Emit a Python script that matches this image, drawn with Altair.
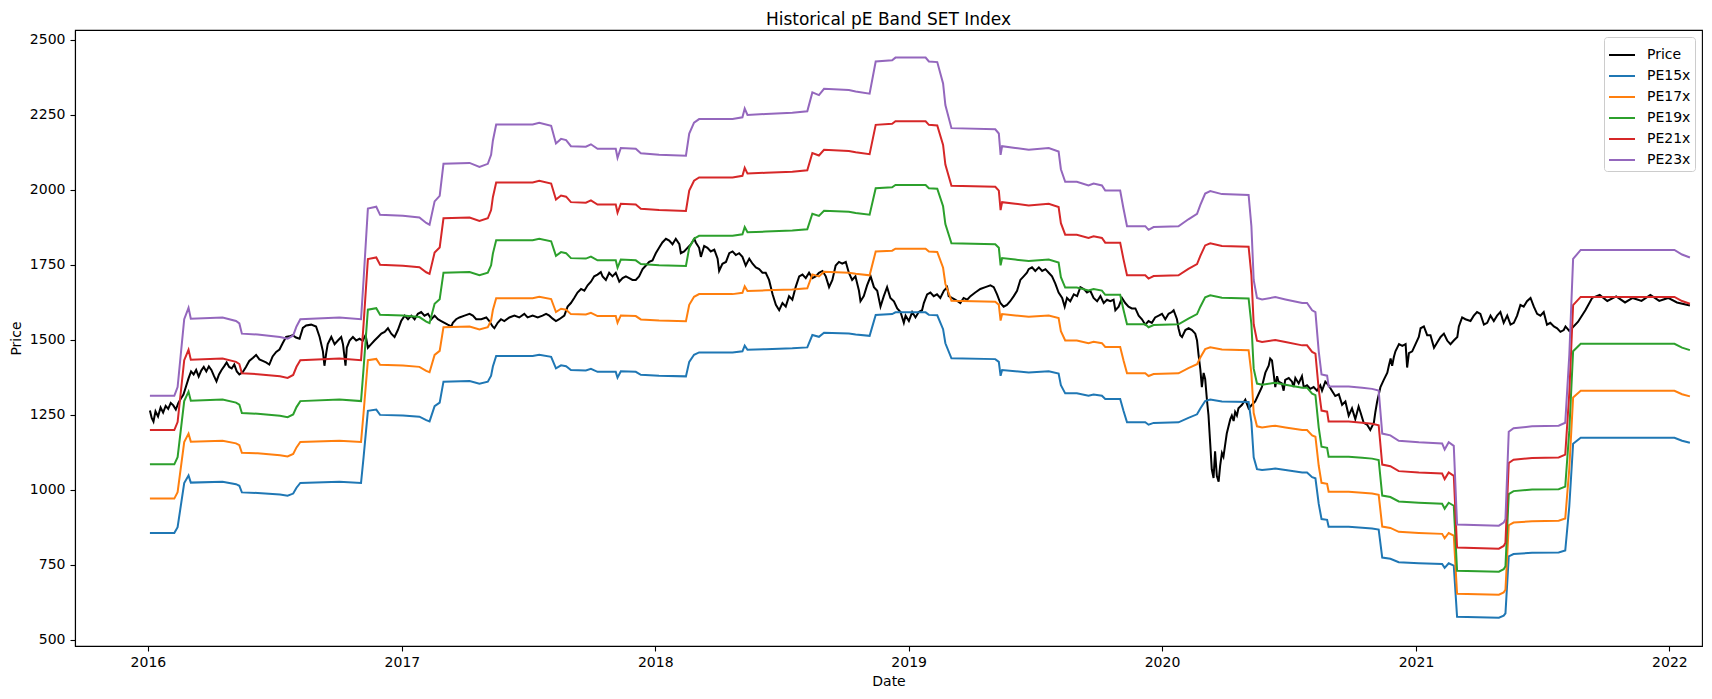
import altair as alt
import pandas as pd

TITLE = "Historical pE Band SET Index"
SERIES = ["Price", "PE15x", "PE17x", "PE19x", "PE21x", "PE23x"]
COLORS = ["#000000", "#1f77b4", "#ff7f0e", "#2ca02c", "#d62728", "#9467bd"]
PE_MULTIPLES = [15, 17, 19, 21, 23]
Y_TICKS = [500, 750, 1000, 1250, 1500, 1750, 2000, 2250, 2500]
X_TICK_YEARS = [2016, 2017, 2018, 2019, 2020, 2021, 2022]

# Price (SET index), time as decimal year
price_t = [2016.008, 2016.015, 2016.022, 2016.03, 2016.04, 2016.05, 2016.06, 2016.07, 2016.08, 2016.09, 2016.10, 2016.11, 2016.12, 2016.13, 2016.14, 2016.15, 2016.16, 2016.17, 2016.18, 2016.19, 2016.20, 2016.21, 2016.22, 2016.23, 2016.24, 2016.25, 2016.26, 2016.27, 2016.28, 2016.29, 2016.30, 2016.31, 2016.32, 2016.33, 2016.34, 2016.35, 2016.36, 2016.373, 2016.386, 2016.399, 2016.413, 2016.426, 2016.439, 2016.452, 2016.465, 2016.478, 2016.491, 2016.505, 2016.518, 2016.531, 2016.544, 2016.557, 2016.570, 2016.583, 2016.597, 2016.610, 2016.623,
           2016.643, 2016.662, 2016.676, 2016.689, 2016.695, 2016.702, 2016.708, 2016.722, 2016.735, 2016.748, 2016.761, 2016.768, 2016.778, 2016.783, 2016.794, 2016.807, 2016.820, 2016.833, 2016.846, 2016.857, 2016.866, 2016.879, 2016.892, 2016.906, 2016.919, 2016.932, 2016.945, 2016.958, 2016.971, 2016.984, 2016.997, 2017.011, 2017.024, 2017.037, 2017.050, 2017.063, 2017.076, 2017.089, 2017.103, 2017.116, 2017.129, 2017.142, 2017.155, 2017.168, 2017.181, 2017.195, 2017.201, 2017.214, 2017.227, 2017.247, 2017.267, 2017.280, 2017.293, 2017.313, 2017.333,
           2017.345, 2017.358, 2017.365, 2017.378, 2017.391, 2017.404, 2017.424, 2017.444, 2017.463, 2017.483, 2017.496, 2017.516, 2017.536, 2017.555, 2017.569, 2017.582, 2017.595, 2017.608, 2017.621, 2017.641, 2017.654, 2017.667, 2017.680, 2017.693, 2017.707, 2017.720, 2017.733, 2017.746, 2017.759, 2017.772, 2017.785, 2017.792, 2017.805, 2017.818, 2017.831, 2017.844, 2017.858, 2017.871, 2017.884, 2017.897, 2017.910, 2017.923, 2017.936, 2017.950, 2017.963, 2017.976, 2017.989, 2018.002, 2018.015, 2018.028, 2018.042, 2018.055,
           2018.068, 2018.081, 2018.095, 2018.101, 2018.114, 2018.127, 2018.141, 2018.154, 2018.160, 2018.173, 2018.180, 2018.193, 2018.206, 2018.219, 2018.233, 2018.246, 2018.252, 2018.265, 2018.279, 2018.292, 2018.305, 2018.318, 2018.331, 2018.344, 2018.357, 2018.371, 2018.384, 2018.397, 2018.410, 2018.423, 2018.436, 2018.449, 2018.463, 2018.476, 2018.489, 2018.502, 2018.515, 2018.528, 2018.541, 2018.554, 2018.568, 2018.581, 2018.594, 2018.607, 2018.620, 2018.633, 2018.646, 2018.660, 2018.673, 2018.686, 2018.699, 2018.712, 2018.725, 2018.738, 2018.752,
           2018.764, 2018.777, 2018.790, 2018.804, 2018.810, 2018.823, 2018.836, 2018.850, 2018.863, 2018.876, 2018.889, 2018.902, 2018.915, 2018.928, 2018.942, 2018.955, 2018.968, 2018.981, 2018.988, 2019.001, 2019.014, 2019.027, 2019.040, 2019.053, 2019.060, 2019.073, 2019.086, 2019.099, 2019.112, 2019.125, 2019.139, 2019.152, 2019.158, 2019.171, 2019.185, 2019.204, 2019.217, 2019.231, 2019.244, 2019.263, 2019.283, 2019.303, 2019.323, 2019.336, 2019.349, 2019.362, 2019.375, 2019.388, 2019.401, 2019.415, 2019.428, 2019.441, 2019.454, 2019.467,
           2019.474, 2019.487, 2019.500, 2019.514, 2019.527, 2019.540, 2019.553, 2019.566, 2019.579, 2019.592, 2019.606, 2019.616, 2019.625, 2019.638, 2019.652, 2019.665, 2019.678, 2019.691, 2019.704, 2019.717, 2019.730, 2019.744, 2019.757, 2019.770, 2019.783, 2019.796, 2019.809, 2019.816, 2019.829, 2019.842, 2019.855, 2019.868, 2019.881, 2019.895, 2019.908, 2019.921, 2019.934, 2019.947, 2019.960, 2019.973, 2019.987, 2020.000, 2020.013, 2020.026, 2020.039, 2020.046, 2020.059, 2020.065, 2020.072, 2020.079, 2020.092, 2020.105, 2020.118, 2020.131, 2020.138, 2020.144, 2020.151, 2020.157, 2020.164, 2020.170, 2020.177, 2020.183, 2020.190, 2020.196, 2020.203, 2020.209, 2020.216, 2020.223, 2020.229, 2020.236, 2020.242, 2020.249, 2020.255, 2020.262, 2020.269, 2020.275, 2020.282, 2020.288, 2020.295, 2020.301, 2020.315, 2020.328, 2020.341, 2020.354, 2020.367, 2020.380, 2020.393, 2020.407, 2020.420, 2020.426, 2020.433, 2020.439, 2020.446, 2020.453, 2020.459, 2020.472, 2020.479, 2020.485, 2020.499, 2020.512, 2020.518, 2020.525, 2020.538, 2020.551, 2020.558, 2020.571, 2020.584, 2020.597, 2020.610, 2020.623, 2020.630, 2020.643, 2020.656, 2020.669, 2020.682, 2020.696, 2020.709, 2020.722, 2020.735, 2020.748, 2020.761, 2020.774, 2020.781, 2020.794, 2020.807, 2020.820, 2020.834, 2020.840, 2020.847, 2020.860, 2020.873,
           2020.887, 2020.893, 2020.900, 2020.906, 2020.913, 2020.919, 2020.933, 2020.946, 2020.959, 2020.965, 2020.972, 2020.985, 2020.998, 2021.011, 2021.018, 2021.031, 2021.044, 2021.057, 2021.071, 2021.084, 2021.097, 2021.110, 2021.123, 2021.136, 2021.149, 2021.163, 2021.169, 2021.182, 2021.195, 2021.215, 2021.228, 2021.241, 2021.254, 2021.268, 2021.281, 2021.294, 2021.307, 2021.320, 2021.333, 2021.346, 2021.360, 2021.373, 2021.386, 2021.399, 2021.412, 2021.425, 2021.438, 2021.452, 2021.465, 2021.478, 2021.491, 2021.504, 2021.517, 2021.530, 2021.544, 2021.557, 2021.570, 2021.583, 2021.590,
           2021.605, 2021.639, 2021.669, 2021.695, 2021.725, 2021.755, 2021.790, 2021.825, 2021.855, 2021.890, 2021.925, 2021.960, 2021.995, 2022.030, 2022.081]
price_v = [1265, 1240, 1228, 1262, 1245, 1275, 1258, 1280, 1270, 1290, 1282, 1268, 1290, 1305, 1318, 1345, 1372, 1395, 1385, 1400, 1378, 1398, 1410, 1395, 1412, 1400, 1380, 1362, 1385, 1400, 1412, 1425, 1410, 1405, 1418, 1395, 1385, 1392, 1410, 1430, 1440, 1450, 1435, 1430, 1425, 1418, 1445, 1460, 1468, 1490, 1510, 1512, 1516, 1508, 1504, 1540, 1548,
           1551, 1545, 1510, 1462, 1414, 1456, 1486, 1510, 1486, 1498, 1510, 1486, 1414, 1474, 1498, 1510, 1498, 1504, 1498, 1516, 1474, 1486, 1498, 1510, 1521, 1527, 1539, 1521, 1510, 1533, 1563, 1581, 1569, 1581, 1569, 1587, 1593, 1581, 1587, 1569, 1581, 1569, 1563, 1557, 1551, 1545, 1557, 1569, 1575, 1581, 1587, 1581, 1569, 1569, 1575,
           1563, 1545, 1539, 1557, 1569, 1563, 1575, 1581, 1575, 1587, 1575, 1581, 1575, 1581, 1587, 1581, 1571, 1563, 1569, 1581, 1611, 1623, 1640, 1658, 1670, 1664, 1682, 1694, 1712, 1718, 1726, 1712, 1700, 1724, 1712, 1724, 1694, 1706, 1712, 1706, 1700, 1700, 1712, 1736, 1748, 1760, 1765, 1789, 1807, 1825, 1837, 1831,
           1819, 1837, 1819, 1789, 1795, 1807, 1819, 1837, 1825, 1807, 1777, 1813, 1807, 1795, 1801, 1771, 1730, 1754, 1760, 1789, 1795, 1783, 1789, 1777, 1748, 1771, 1754, 1742, 1736, 1724, 1724, 1700, 1652, 1617, 1599, 1623, 1611, 1646, 1634, 1676, 1712, 1718, 1706, 1724, 1706, 1712, 1724, 1730, 1712, 1676, 1700, 1748, 1760, 1754, 1760,
           1724, 1700, 1712, 1664, 1629, 1646, 1682, 1712, 1676, 1664, 1611, 1646, 1676, 1640, 1629, 1605, 1593, 1557, 1581, 1563, 1593, 1575, 1593, 1599, 1623, 1652, 1658, 1646, 1652, 1640, 1664, 1676, 1646, 1640, 1634, 1623, 1640, 1634, 1646, 1658, 1670, 1676, 1682, 1676, 1652, 1623, 1611, 1617, 1629, 1646, 1664, 1700, 1712, 1724,
           1736, 1742, 1730, 1742, 1730, 1736, 1724, 1712, 1688, 1658, 1640, 1611, 1640, 1629, 1652, 1646, 1676, 1670, 1658, 1664, 1640, 1629, 1646, 1623, 1634, 1629, 1634, 1599, 1611, 1640, 1623, 1611, 1605, 1605, 1581, 1569, 1551, 1563, 1557, 1575, 1581, 1587, 1569, 1587, 1593, 1599, 1569, 1539, 1516, 1510, 1533, 1539, 1533, 1521, 1498, 1450, 1402, 1343, 1390, 1370, 1300, 1250, 1153, 1069, 1040, 1129, 1046, 1028, 1081, 1123, 1111, 1153, 1188, 1212, 1236, 1248, 1230, 1260, 1248, 1272, 1284, 1301, 1272, 1284, 1295, 1319, 1343, 1391, 1414, 1438, 1432, 1391, 1343, 1379, 1361, 1355, 1331, 1367, 1373, 1361, 1343, 1373, 1355, 1379, 1343, 1349, 1337, 1343, 1331, 1349, 1331, 1361, 1349, 1331, 1313, 1319, 1284, 1295, 1248, 1272, 1236, 1278, 1260, 1224, 1218, 1200, 1224, 1260, 1295, 1343, 1367,
           1391, 1414, 1438, 1414, 1444, 1462, 1486, 1480, 1486, 1408, 1456, 1462, 1486, 1510, 1539, 1545, 1516, 1516, 1474, 1492, 1510, 1521, 1498, 1486, 1498, 1510, 1545, 1575, 1569, 1563, 1581, 1593, 1587, 1551, 1557, 1581, 1563, 1581, 1593, 1557, 1581, 1551, 1557, 1581, 1617, 1611, 1629, 1640, 1611, 1587, 1581, 1593, 1551, 1557, 1545, 1539, 1527, 1533, 1545,
           1530, 1560, 1600, 1640, 1650, 1630, 1645, 1625, 1640, 1630, 1650, 1630, 1640, 1625, 1615]

# Earnings per share behind the PE bands (band = EPS x multiple)
eps_t = [2016.008, 2016.104, 2016.117, 2016.143, 2016.160, 2016.169, 2016.294, 2016.347, 2016.360, 2016.370, 2016.432, 2016.520, 2016.550, 2016.572, 2016.585, 2016.600, 2016.754, 2016.839, 2016.849, 2016.866, 2016.899, 2016.914, 2017.004, 2017.069, 2017.096, 2017.109, 2017.129, 2017.149, 2017.164, 2017.267, 2017.306, 2017.339, 2017.352, 2017.359, 2017.372, 2017.516, 2017.542, 2017.589, 2017.608, 2017.628, 2017.648, 2017.667, 2017.726, 2017.746, 2017.772, 2017.844, 2017.851, 2017.864, 2017.923, 2017.943, 2018.015, 2018.121, 2018.134, 2018.153, 2018.173, 2018.305, 2018.344, 2018.353, 2018.364, 2018.436, 2018.541, 2018.600, 2018.620, 2018.646, 2018.666, 2018.764, 2018.791, 2018.846, 2018.870, 2018.935, 2018.948, 2019.067, 2019.080, 2019.113, 2019.136, 2019.145, 2019.169, 2019.342, 2019.356, 2019.363, 2019.369, 2019.421, 2019.474, 2019.553, 2019.592, 2019.601, 2019.618, 2019.664, 2019.710, 2019.730, 2019.763, 2019.776, 2019.835, 2019.848, 2019.862, 2019.934, 2019.947, 2019.967, 2020.065, 2020.104, 2020.138, 2020.151, 2020.170, 2020.190, 2020.236, 2020.341, 2020.352, 2020.361, 2020.374, 2020.394, 2020.446, 2020.486, 2020.552, 2020.571, 2020.591, 2020.604, 2020.617, 2020.628, 2020.650, 2020.656, 2020.735, 2020.788, 2020.827, 2020.853, 2020.867, 2020.899, 2020.932, 2021.011, 2021.103, 2021.113, 2021.129, 2021.149, 2021.162, 2021.327, 2021.346, 2021.353, 2021.366, 2021.385, 2021.458, 2021.563, 2021.589, 2021.605, 2021.620, 2021.650, 2022.020, 2022.050, 2022.081]
eps_v = [57.13, 57.13, 58.39, 68.22, 69.87, 68.30, 68.48, 67.96, 67.61, 66.13, 66.00, 65.65, 65.39, 65.87, 67.17, 68.22, 68.48, 68.22, 73.91, 84.26, 84.52, 83.35, 83.22, 82.96, 82.17, 81.91, 85.30, 86.09, 90.74, 90.87, 90.30, 90.74, 92.04, 94.09, 96.43, 96.43, 96.70, 96.26, 93.70, 94.35, 94.17, 93.30, 93.22, 93.57, 92.91, 92.91, 91.61, 93.04, 92.91, 92.26, 92.04, 91.91, 95.13, 96.70, 97.22, 97.22, 97.48, 98.74, 97.83, 97.96, 98.13, 98.35, 101.09, 100.70, 101.61, 101.43, 101.22, 100.91, 105.57, 105.74, 106.13, 106.13, 105.57, 105.48, 102.39, 99.26, 95.91, 95.74, 95.13, 92.04, 93.30, 93.04, 92.78, 93.04, 92.52, 89.96, 88.13, 88.13, 87.61, 87.87, 87.61, 86.87, 86.87, 84.26, 81.70, 81.70, 81.17, 81.57, 81.70, 82.70, 83.48, 84.78, 86.43, 86.78, 86.35, 86.22, 81.70, 73.91, 71.30, 71.09, 71.43, 71.09, 70.57, 70.57, 69.52, 69.26, 63.57, 60.22, 60.04, 58.48, 58.48, 58.30, 58.13, 57.87, 51.65, 51.39, 50.61, 50.39, 50.22, 49.35, 50.39, 49.87, 38.48, 38.30, 38.74, 39.26, 51.91, 52.43, 52.70, 52.78, 53.22, 63.04, 76.96, 78.26, 78.26, 77.60, 77.17]


def to_iso(y):
    yr = int(y)
    start = pd.Timestamp(year=yr, month=1, day=1)
    end = pd.Timestamp(year=yr + 1, month=1, day=1)
    return (start + (end - start) * (y - yr)).strftime("%Y-%m-%dT%H:%M:%S")


rows = []
for t, v in zip(price_t, price_v):
    rows.append({"date": to_iso(t), "value": v, "series": "Price"})
for m in PE_MULTIPLES:
    for t, e in zip(eps_t, eps_v):
        rows.append({"date": to_iso(t), "value": round(e * m, 2), "series": f"PE{m}x"})
df = pd.DataFrame(rows)

FONT = "DejaVu Sans"

chart = (
    alt.Chart(df)
    .mark_line(strokeWidth=2, clip=True)
    .encode(
        x=alt.X(
            "date:T",
            title="Date",
            scale=alt.Scale(domain=[alt.DateTime(year=2015, month=9, date=18),
                                    alt.DateTime(year=2022, month=2, date=17)]),
            axis=alt.Axis(values=[alt.DateTime(year=y, month=1, date=1) for y in X_TICK_YEARS],
                          format="%Y", labelPadding=4, titlePadding=5),
        ),
        y=alt.Y(
            "value:Q",
            title="Price",
            scale=alt.Scale(domain=[480, 2533], nice=False, zero=False),
            axis=alt.Axis(values=Y_TICKS, format="d", labelPadding=5, titlePadding=6),
        ),
        color=alt.Color(
            "series:N",
            scale=alt.Scale(domain=SERIES, range=COLORS),
            legend=alt.Legend(
                title=None, orient="top-right", offset=7,
                strokeColor="#cccccc", fillColor="white", cornerRadius=3,
                padding=4, symbolType="stroke", symbolSize=676, symbolStrokeWidth=2,
                labelFont=FONT, labelFontSize=14, labelColor="black",
                rowPadding=-6, labelOffset=11,
            ),
        ),
    )
    .properties(
        width=1627,
        height=616,
        title=alt.TitleParams(TITLE, font=FONT, fontSize=17, fontWeight="normal",
                              color="black", anchor="middle", frame="group", offset=1),
        autosize=alt.AutoSizeParams(type="none"),
        padding={"left": 67, "top": 22, "right": 2, "bottom": 45},
    )
    .configure_axis(
        grid=False, labelFont=FONT, labelFontSize=14, labelColor="black",
        titleFont=FONT, titleFontSize=14, titleFontWeight="normal", titleColor="black",
        domainColor="black", domainWidth=1.1, tickColor="black", tickWidth=1.1, tickSize=5,
    )
    .configure_view(stroke="black", strokeWidth=1.1)
)

chart.save("out.html", embed_options={"renderer": "svg", "actions": False})
